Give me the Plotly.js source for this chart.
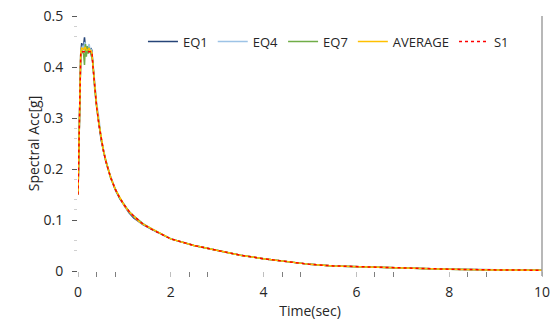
<!DOCTYPE html>
<html>
<head>
<meta charset="utf-8">
<script src="https://cdn.plot.ly/plotly-3.0.1.min.js"></script>
<style>
  html, body { margin: 0; padding: 0; background: #ffffff; }
  #chart { width: 556px; height: 320px; }
</style>
</head>
<body>
<div id="chart"></div>
<script>
// Period (s)
const period = [0, 0.02, 0.04, 0.06, 0.08, 0.10, 0.12, 0.14, 0.16, 0.18,
                0.20, 0.22, 0.24, 0.26, 0.28, 0.30, 0.32, 0.34, 0.36, 0.40,
                0.45, 0.50, 0.55, 0.60, 0.70, 0.80, 0.90, 1.00, 1.10, 1.20,
                1.30, 1.40, 1.60, 1.80, 2.00, 2.50, 3.00, 3.50, 4.00, 4.50,
                5.00, 5.50, 6.00, 7.00, 8.00, 9.00, 10.00];

const eq1 = [0.150, 0.245, 0.338, 0.428, 0.447, 0.438, 0.442, 0.458, 0.437, 0.440,
             0.433, 0.441, 0.436, 0.431, 0.437, 0.432, 0.405, 0.381, 0.356, 0.325,
             0.290, 0.256, 0.236, 0.214, 0.186, 0.160, 0.142, 0.127, 0.114, 0.104,
             0.097, 0.091, 0.081, 0.072, 0.063, 0.050, 0.040, 0.031, 0.024, 0.018,
             0.013, 0.010, 0.0086, 0.0056, 0.0036, 0.0023, 0.0016];

const eq4 = [0.150, 0.244, 0.336, 0.432, 0.436, 0.442, 0.433, 0.449, 0.445, 0.434,
             0.428, 0.440, 0.445, 0.433, 0.436, 0.429, 0.408, 0.383, 0.366, 0.331,
             0.300, 0.260, 0.238, 0.217, 0.185, 0.162, 0.144, 0.128, 0.116, 0.106,
             0.098, 0.092, 0.082, 0.072, 0.063, 0.050, 0.041, 0.031, 0.024, 0.018,
             0.013, 0.010, 0.0084, 0.0054, 0.0034, 0.0022, 0.0015];

const eq7 = [0.150, 0.243, 0.337, 0.429, 0.433, 0.430, 0.425, 0.404, 0.445, 0.420,
             0.441, 0.426, 0.438, 0.430, 0.425, 0.418, 0.410, 0.378, 0.357, 0.322,
             0.286, 0.259, 0.234, 0.216, 0.183, 0.161, 0.143, 0.130, 0.117, 0.108,
             0.100, 0.093, 0.082, 0.072, 0.063, 0.050, 0.040, 0.031, 0.024, 0.018,
             0.013, 0.010, 0.0085, 0.0055, 0.0035, 0.0022, 0.0015];

const average = [0.150, 0.244, 0.337, 0.430, 0.437, 0.435, 0.434, 0.438, 0.438, 0.433,
                 0.434, 0.434, 0.437, 0.431, 0.432, 0.428, 0.406, 0.381, 0.359, 0.325,
                 0.290, 0.259, 0.236, 0.216, 0.185, 0.161, 0.143, 0.128, 0.116, 0.106,
                 0.098, 0.092, 0.082, 0.072, 0.063, 0.050, 0.040, 0.031, 0.024, 0.018,
                 0.013, 0.010, 0.0085, 0.0055, 0.0035, 0.0022, 0.0015];

const s1 = [0.150, 0.243, 0.337, 0.430, 0.430, 0.430, 0.430, 0.430, 0.430, 0.430,
            0.430, 0.430, 0.430, 0.430, 0.430, 0.430, 0.403, 0.379, 0.358, 0.323,
            0.287, 0.258, 0.235, 0.215, 0.184, 0.161, 0.143, 0.129, 0.117, 0.108,
            0.099, 0.092, 0.081, 0.072, 0.063, 0.050, 0.040, 0.031, 0.024, 0.018,
            0.013, 0.010, 0.0085, 0.0055, 0.0035, 0.0022, 0.0015];

const seriesNames = ['EQ1', 'EQ4', 'EQ7', 'AVERAGE', 'S1'];
const seriesColors = ['#264478', '#9DC3E6', '#70AD47', '#FFC000', '#FF0000'];

const xTickVals = [0, 2, 4, 6, 8, 10];
const xTickText = ['0', '2', '4', '6', '8', '10'];
const yTickVals = [0, 0.1, 0.2, 0.3, 0.4, 0.5];
const yTickText = ['0', '0.1', '0.2', '0.3', '0.4', '0.5'];
const xMinorVals = [0.4, 0.8, 2.4, 2.8, 4.4, 4.8, 6.4, 6.8, 8.4, 8.8];
const yMinorVals = [0.04, 0.06, 0.12, 0.14, 0.18, 0.26, 0.28, 0.46, 0.48];

const allSeries = [eq1, eq4, eq7, average, s1];
const traces = allSeries.map((vals, i) => ({
  type: 'scatter',
  mode: 'lines',
  x: period,
  y: vals,
  name: seriesNames[i],
  line: {
    color: seriesColors[i],
    width: 1.5,
    dash: seriesNames[i] === 'S1' ? 'dot' : 'solid'
  }
}));

const fam = '"Open Sans", "Noto Sans", sans-serif';
const font = { family: fam, size: 14, color: '#262626' };

const layout = {
  width: 556,
  height: 320,
  margin: { l: 78, r: 14, t: 16, b: 49 },
  paper_bgcolor: '#ffffff',
  plot_bgcolor: '#ffffff',
  font: font,
  showlegend: true,
  legend: {
    orientation: 'h',
    x: 0.14, xanchor: 'left',
    y: 0.9, yanchor: 'middle',
    font: { family: fam, size: 13, color: '#262626' },
    bgcolor: 'rgba(0,0,0,0)',
    itemwidth: 30
  },
  xaxis: {
    range: [0, 10],
    tickmode: 'array',
    tickvals: xTickVals,
    ticktext: xTickText,
    ticks: 'outside',
    ticklen: 5,
    tickcolor: '#bfbfbf',
    ticklabelstandoff: 3,
    showgrid: false,
    zeroline: false,
    showline: false,
    minor: { tickmode: 'array', tickvals: xMinorVals, ticks: 'outside', ticklen: 5, tickcolor: '#7f7f7f', showgrid: false },
    title: { text: 'Time(sec)', font: { family: fam, size: 14, color: '#262626' }, standoff: 7 }
  },
  yaxis: {
    range: [0, 0.5],
    tickmode: 'array',
    tickvals: yTickVals,
    ticktext: yTickText,
    ticks: 'outside',
    ticklen: 5,
    tickcolor: '#595959',
    ticklabelstandoff: 6,
    showgrid: false,
    zeroline: false,
    showline: false,
    minor: { tickmode: 'array', tickvals: yMinorVals, ticks: 'outside', ticklen: 3, tickcolor: '#d0d0d0', showgrid: false },
    title: { text: 'Spectral Acc[g]', font: { family: fam, size: 14, color: '#262626' }, standoff: 0 }
  },
  shapes: [{
    type: 'line', xref: 'paper', yref: 'paper',
    x0: 1, x1: 1, y0: -0.02, y1: 1,
    line: { color: '#a0a0a0', width: 1.5 }
  }]
};

Plotly.newPlot('chart', traces, layout, { displayModeBar: false, staticPlot: true });
</script>
</body>
</html>
